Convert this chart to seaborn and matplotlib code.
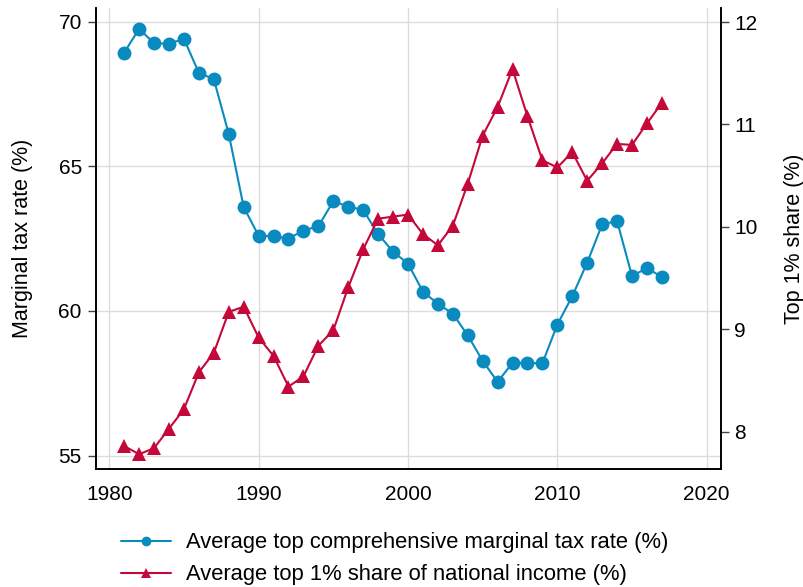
import numpy as np
import pandas as pd
import matplotlib
matplotlib.use("Agg")
import matplotlib.pyplot as plt
import seaborn as sns

# values
years = list(range(1981, 2018))
tax_rate = [68.93, 69.75, 69.25, 69.24, 69.40, 68.23, 68.01, 66.12, 63.59, 62.60,
            62.59, 62.50, 62.78, 62.93, 63.79, 63.61, 63.49, 62.66, 62.05, 61.64,
            60.67, 60.25, 59.91, 59.16, 58.28, 57.55, 58.21, 58.21, 58.19, 59.53,
            60.51, 61.67, 62.99, 63.11, 61.21, 61.48, 61.18]
top1_share = [7.86, 7.78, 7.84, 8.03, 8.22, 8.58, 8.77, 9.17, 9.22, 8.92,
              8.74, 8.44, 8.54, 8.84, 8.99, 9.41, 9.78, 10.08, 10.10, 10.12,
              9.93, 9.82, 10.01, 10.42, 10.89, 11.17, 11.54, 11.08, 10.65, 10.58,
              10.73, 10.45, 10.62, 10.81, 10.80, 11.01, 11.21]
left_ticks = [55, 60, 65, 70]
right_ticks = [8, 9, 10, 11, 12]
x_ticks = [1980, 1990, 2000, 2010, 2020]
label_tax = "Average top comprehensive marginal tax rate (%)"
label_top1 = "Average top 1% share of national income (%)"

df = pd.DataFrame({"year": years, "tax": tax_rate, "top1": top1_share})

sns.set_style("white")
plt.rcParams["font.family"] = ["Liberation Sans", "DejaVu Sans"]
plt.rcParams["text.color"] = "black"
plt.rcParams["axes.labelcolor"] = "black"
plt.rcParams["xtick.labelcolor"] = "black"
plt.rcParams["ytick.labelcolor"] = "black"
blue = "#0A8BC0"
red = "#C4083A"

fig = plt.figure(figsize=(8.04, 5.87), dpi=100)
ax = fig.add_axes([0.119, 0.2005, 0.7774, 0.7859])
ax2 = ax.twinx()

sns.lineplot(data=df, x="year", y="tax", ax=ax, color=blue, marker="o",
             markersize=10, markeredgewidth=0, linewidth=1.5, label=label_tax, legend=False)
sns.lineplot(data=df, x="year", y="top1", ax=ax2, color=red, marker="^",
             markersize=10, markeredgewidth=0, linewidth=1.5, label=label_top1, legend=False)

ax.set_xlim(1979.09, 2020.94)
ax.set_ylim(54.53, 70.47)
ax2.set_ylim(7.633, 12.137)
ax.set_xticks(x_ticks)
ax.set_yticks(left_ticks)
ax2.set_yticks(right_ticks)

ax.grid(True, color="#dcdcdc", linewidth=1.0)
ax.set_axisbelow(True)
ax2.grid(False)

for a in (ax, ax2):
    a.spines["top"].set_visible(False)
    for s in a.spines.values():
        s.set_linewidth(1.2)
        s.set_color("black")
    a.tick_params(axis="both", labelsize=15, length=6, width=1.0, color="#444444",
                  labelcolor="black", direction="out")
ax.tick_params(axis="x", pad=5)
ax.tick_params(axis="y", pad=4)

ax.set_xlabel("")
ax.set_ylabel("Marginal tax rate (%)", fontsize=15.5, labelpad=18, color="black")
ax2.set_ylabel("Top 1% share (%)", fontsize=15.5, labelpad=19, color="black")

h1, l1 = ax.get_legend_handles_labels()
h2, l2 = ax2.get_legend_handles_labels()
leg = fig.legend(h1 + h2, l1 + l2, loc="center", bbox_to_anchor=(0.4907, 0.0478),
                 frameon=False, fontsize=15.8, handlelength=2.3, handletextpad=0.65,
                 labelspacing=0.5, markerscale=0.7, borderpad=0.2)
for t in leg.get_texts():
    t.set_color("black")

fig.savefig("out.png", dpi=100)
